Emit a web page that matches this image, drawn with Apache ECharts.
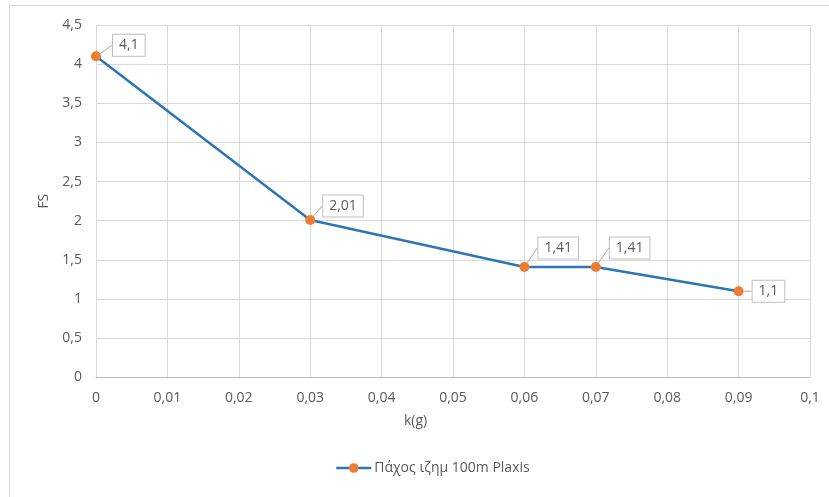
<!DOCTYPE html>
<html>
<head>
<meta charset="utf-8">
<script src="https://cdn.jsdelivr.net/npm/echarts@6/dist/echarts.min.js"></script>
<style>
  html, body { margin: 0; padding: 0; background: #fff; }
  #chart { width: 829px; height: 497px; }
</style>
</head>
<body>
<div id="chart"></div>
<script>
// Safety factor FS against seismic coefficient k(g)
const kValues = [0, 0.03, 0.06, 0.07, 0.09];
const fsValues = [4.1, 2.01, 1.41, 1.41, 1.1];
const seriesName = 'Πάχος ιζημ 100m Plaxis';
const xAxisTitle = 'k(g)';
const yAxisTitle = 'FS';

// label box nudges (px) per point
const labelShiftX = [4, 0, 1, 1, 1];
const labelShiftY = [-11, -14, -19, -19, 0];

const fmt = v => {
  const r = Math.round(v * 1000) / 1000;
  return String(r).replace('.', ',');
};

const chart = echarts.init(document.getElementById('chart'), null, { renderer: 'canvas' });
const font = '"Open Sans", "Noto Sans", sans-serif';
const textGray = '#595959';

chart.setOption({
  animation: false,
  backgroundColor: '#ffffff',
  textStyle: { fontFamily: font },
  grid: { left: 96, right: 19, top: 25, bottom: 119.7, containLabel: false },
  xAxis: {
    type: 'value',
    min: 0, max: 0.1, interval: 0.01,
    axisLine: { show: true, lineStyle: { color: '#bfbfbf', width: 1 } },
    axisTick: { show: false },
    axisLabel: { color: textGray, fontSize: 14, margin: 14, formatter: fmt },
    splitLine: { show: true, lineStyle: { color: '#d9d9d9', width: 1 } }
  },
  yAxis: {
    type: 'value',
    min: 0, max: 4.5, interval: 0.5,
    name: yAxisTitle,
    nameLocation: 'middle',
    nameGap: 44,
    nameRotate: 90,
    nameTextStyle: { color: textGray, fontSize: 14 },
    axisLine: { show: false },
    axisTick: { show: false },
    axisLabel: { color: textGray, fontSize: 14, margin: 14, formatter: fmt },
    splitLine: { show: true, lineStyle: { color: '#d9d9d9', width: 1 } }
  },
  legend: {
    show: true,
    left: 330,
    top: 456,
    itemWidth: 35,
    itemHeight: 12,
    itemGap: 4,
    itemStyle: { color: '#ed7d31' },
    lineStyle: { color: '#2e75b6', width: 2.5 },
    textStyle: { color: textGray, fontSize: 14, padding: [0, 0, 0, -2] },
    data: [seriesName]
  },
  graphic: [
    {
      type: 'rect',
      shape: { x: 9.5, y: 5.5, width: 840, height: 520 },
      style: { fill: 'none', stroke: '#d9d9d9', lineWidth: 1 },
      silent: true
    },
    {
      type: 'text',
      left: 404,
      top: 414,
      style: { text: xAxisTitle, fill: textGray, font: '14px ' + font }
    }
  ],
  series: [{
    name: seriesName,
    type: 'line',
    data: kValues.map((k, i) => [k, fsValues[i]]),
    lineStyle: { color: '#2e75b6', width: 2.5 },
    itemStyle: { color: '#ed7d31' },
    symbol: 'circle',
    symbolSize: 10,
    label: {
      show: true,
      position: 'right',
      distance: 8,
      color: textGray,
      fontSize: 14,
      backgroundColor: '#ffffff',
      borderColor: '#bfbfbf',
      borderWidth: 1,
      padding: [4, 6, 3, 6],
      formatter: p => fmt(p.value[1])
    },
    labelLine: {
      show: true,
      lineStyle: { color: '#a6a6a6', width: 1 }
    },
    labelLayout: p => ({ dx: labelShiftX[p.dataIndex], dy: labelShiftY[p.dataIndex] })
  }]
});
</script>
</body>
</html>
